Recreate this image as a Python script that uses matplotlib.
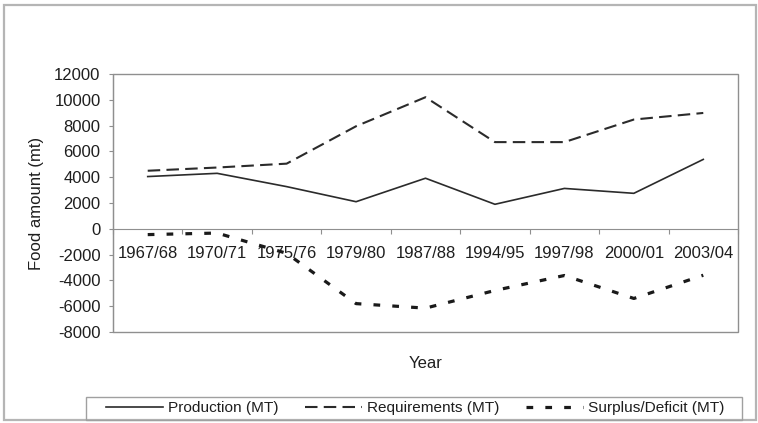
import numpy as np
import matplotlib
matplotlib.use("Agg")
import matplotlib.pyplot as plt
from matplotlib.patches import Rectangle

'''
DATA
'''
years = ["1967/68", "1970/71", "1975/76", "1979/80", "1987/88",
         "1994/95", "1997/98", "2000/01", "2003/04"]
production = [4050, 4300, 3270, 2100, 3920, 1900, 3130, 2750, 5380]
requirements = [4500, 4750, 5050, 7950, 10200, 6720, 6720, 8470, 8980]
surplus = [-450, -330, -1900, -5800, -6150, -4780, -3620, -5400, -3600]

yticks = list(range(-8000, 12001, 2000))

'''
STYLE
'''
plt.rcParams['font.family'] = ['Liberation Sans', 'DejaVu Sans']
text_col = "#1e1e1e"
line_col = "#2b2b2b"
frame_col = "#8f8f8f"

W, H = 758, 423
fig = plt.figure(figsize=(W / 100, H / 100), dpi=100)
fig.patch.set_facecolor("white")

# outer chart border
fig.add_artist(Rectangle((4 / W, 1 - 420 / H), 752 / W, 415 / H,
                         transform=fig.transFigure, fill=False,
                         ec="#b5b5b5", lw=1.6))

ax = fig.add_axes([113 / W, 1 - 332 / H, 625 / W, 258 / H])

x = np.arange(len(years)) + 0.5

ax.plot(x, production, color=line_col, lw=1.2, label="Production (MT)")
ax.plot(x, requirements, color=line_col, lw=1.5, dashes=(6, 3),
        label="Requirements (MT)")
ax.plot(x, surplus, color="#1a1a1a", lw=2.3, dashes=(2.1, 3.8),
        dash_capstyle="butt", label="Surplus/Deficit (MT)")

ax.set_xlim(0, len(years))
ax.set_ylim(-8000, 12000)
ax.set_yticks(yticks)
ax.set_yticklabels([str(v) for v in yticks])

# category axis crosses at zero, Excel style
ax.spines['bottom'].set_position(('data', 0))
ax.spines['bottom'].set_color(frame_col)
ax.spines['left'].set_color(frame_col)
ax.spines['top'].set_visible(False)
ax.spines['right'].set_visible(False)
ax.add_patch(Rectangle((0, 0), 1, 1, transform=ax.transAxes, fill=False,
                       ec=frame_col, lw=1.0, clip_on=False))

ax.set_xticks(np.arange(len(years) + 1))
ax.set_xticklabels([])
ax.set_xticks(x, minor=True)
ax.set_xticklabels(years, minor=True)
ax.tick_params(axis='x', which='major', direction='out', length=3.5,
               color=frame_col)
ax.tick_params(axis='x', which='minor', length=0, pad=12.5,
               labelsize=12, labelcolor=text_col)
ax.tick_params(axis='y', direction='out', length=3, color=frame_col,
               pad=6, labelsize=12, labelcolor=text_col)

ax.set_ylabel("Food amount (mt)", fontsize=12, color=text_col)
ax.yaxis.set_label_coords(-0.110, 0.5)
ax.set_xlabel("Year", fontsize=12, color=text_col)
ax.xaxis.set_label_coords(0.5, -0.092)

# legend box at the bottom
fig.add_artist(Rectangle((86 / W, 1 - 420 / H), 656 / W, 23 / H,
                         transform=fig.transFigure, fill=False,
                         ec="#a0a0a0", lw=1.0))
leg = fig.legend(loc="center left", bbox_to_anchor=(98 / W, 1 - 408 / H),
                 ncol=3, frameon=False, fontsize=11.1, borderpad=0,
                 handlelength=3.7, handletextpad=0.35, columnspacing=1.7)
for t in leg.get_texts():
    t.set_color(text_col)

fig.savefig("out.png", dpi=100)
